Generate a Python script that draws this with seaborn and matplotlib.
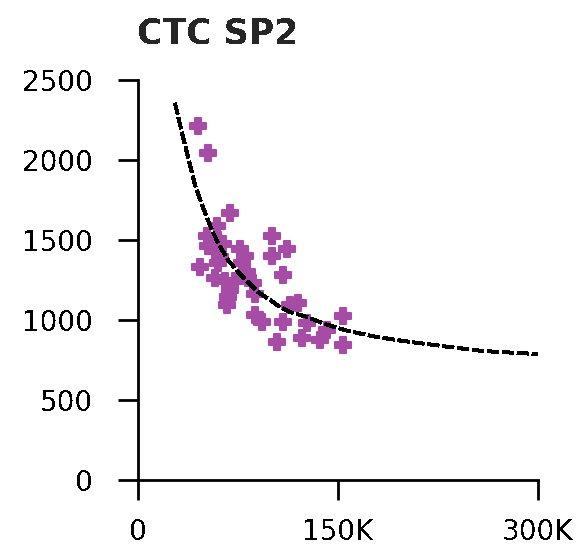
import matplotlib
matplotlib.use("Agg")
import matplotlib.pyplot as plt
import seaborn as sns
import pandas as pd

# Observed jobs: width (x) vs. value (y)
job_x = [45.0, 52.5, 69.0, 59.25, 51.75, 60.0, 63.75, 52.5, 57.75, 61.5,
         60.0, 76.5, 80.25, 78.0, 46.5, 81.75, 57.75, 65.25, 72.75, 69.0,
         67.5, 66.75, 87.75, 87.75, 93.0, 100.5, 111.75, 100.5, 108.75, 86.25,
         108.75, 114.0, 120.0, 126.75, 141.75, 104.25, 123.0, 136.5, 153.75, 153.75]
job_y = [2212, 2044, 1669, 1588, 1525, 1500, 1475, 1462, 1431, 1394,
         1356, 1444, 1400, 1356, 1331, 1300, 1262, 1244, 1244, 1187,
         1144, 1094, 1163, 1031, 987, 1525, 1444, 1400, 1281, 1231,
         987, 1094, 1106, 981, 937, 862, 887, 875, 1025, 844]

# Fitted trend curve
fit_x = [27.75, 33.0, 37.5, 42.75, 48.0, 55.5, 60.0, 67.5, 75.0, 82.5, 90.0,
         99.0, 106.5, 114.0, 126.75, 140.25, 157.5, 179.25, 198.75, 234.0,
         258.75, 300.0]
fit_y = [2356, 2169, 2019, 1844, 1719, 1562, 1481, 1375, 1300, 1237, 1175,
         1125, 1081, 1050, 1019, 975, 931, 894, 869, 831, 806, 787]

x_ticks = [0, 150, 300]
x_tick_labels = ["0", "150K", "300K"]
y_ticks = [0, 500, 1000, 1500, 2000, 2500]
title = "CTC SP2"

sns.set_style("ticks")
plt.rcParams["font.family"] = ["DejaVu Sans"]
plt.rcParams["text.antialiased"] = False

fig = plt.figure(figsize=(5.81, 5.50), dpi=100)
ax = fig.add_axes([138 / 581, 1 - 480 / 550, 400 / 581, 400 / 550])

jobs = pd.DataFrame({"x": job_x, "y": job_y})
fit = pd.DataFrame({"x": fit_x, "y": fit_y})

sns.lineplot(data=fit, x="x", y="y", ax=ax, color="black", lw=2,
             linestyle=(0, (4, 1.2)), sort=True, antialiased=False, zorder=3)
sns.scatterplot(data=jobs, x="x", y="y", ax=ax, marker="P", s=130,
                color="#a64ca6", edgecolor="#a64ca6", linewidth=1.5, zorder=2)

ax.set_xlim(0, 300)
ax.set_ylim(0, 2500)
ax.set_xticks(x_ticks)
ax.set_xticklabels(x_tick_labels)
ax.set_yticks(y_ticks)
ax.set_xlabel("")
ax.set_ylabel("")

for side in ("top", "right"):
    ax.spines[side].set_visible(False)
for side in ("left", "bottom"):
    ax.spines[side].set_linewidth(2)
    ax.spines[side].set_color("black")

ax.tick_params(axis="both", direction="out", length=14.5, width=2,
               colors="black", labelsize=20)
ax.tick_params(axis="x", pad=13)
ax.tick_params(axis="y", pad=18)

fig.text(137 / 581, 1 - 43 / 550, title, fontsize=25, fontweight="bold",
         ha="left", va="baseline")

fig.savefig("out.png", dpi=100, facecolor="white")
